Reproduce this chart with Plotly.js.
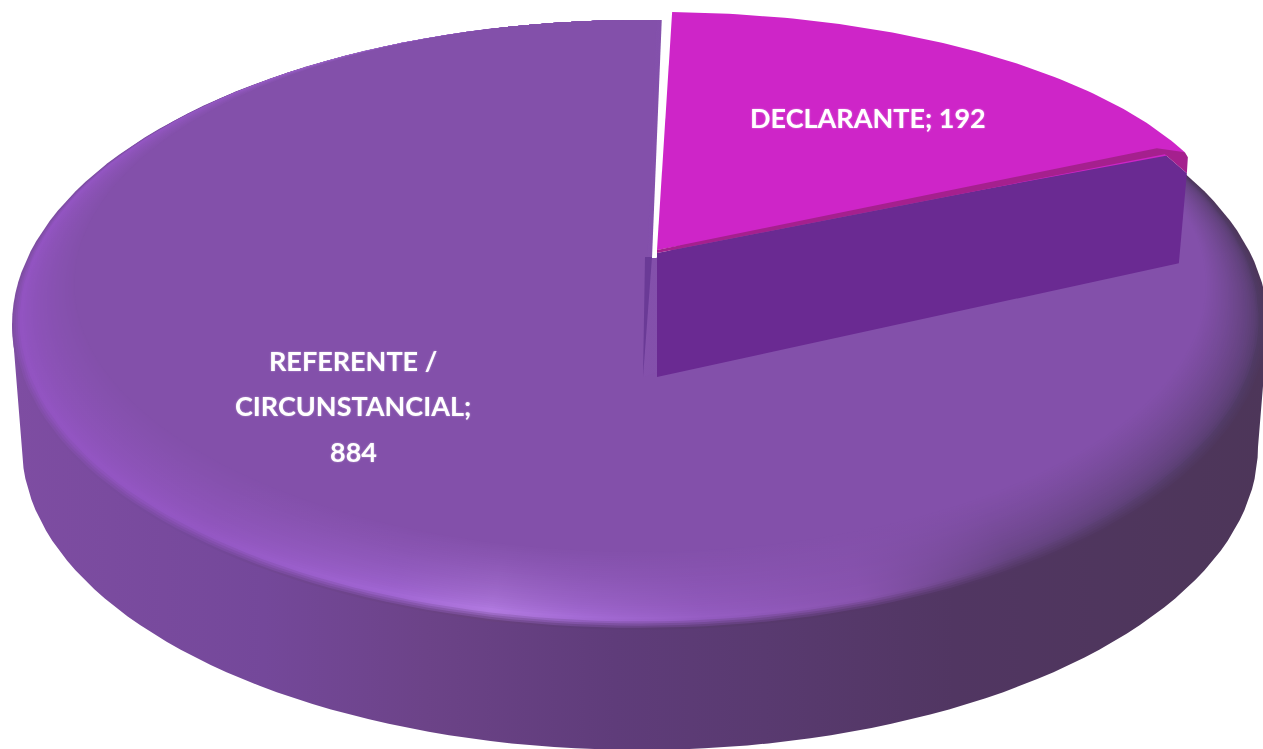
<!DOCTYPE html>
<html><head><meta charset="utf-8">
<script src="https://cdn.plot.ly/plotly-3.0.1.min.js"></script>
<style>html,body{margin:0;padding:0;background:#fff;overflow:hidden}#c{width:1263px;height:749px;filter:blur(0.6px)}</style>
</head><body><div id="c"></div>
<script>
// ---- data
const categories = ['DECLARANTE', 'REFERENTE / CIRCUNSTANCIAL'];
const values = [192, 884];
const sliceColors = ['#CE25C8', '#8350AA'];
const labelLines = [
  [`${categories[0]}; ${values[0]}`],
  ['REFERENTE /', 'CIRCUNSTANCIAL;', String(values[1])]
];

// ---- solid geometry (plot units = axis units)
const W = 1263, H = 749;
const topE = {cx: 640, cy: 325, rx: 628, ry: 305};
const botE = {cx: 640, cy: 447, rx: 618, ry: 303};
const sliceE = {cx: 657, cy: 250, rx: 579, ry: 238};
const startDeg = 1.5;
const total = values[0] + values[1];
const sweep = values.map(v => v / total * 360);
const rad = d => d * Math.PI / 180;

function hex(c){return c[0]==='#'?[1,3,5].map(i=>parseInt(c.slice(i,i+2),16)):c.match(/\d+/g).map(Number);}
function mix(a,b,t){const A=hex(a),B=hex(b);return 'rgb('+A.map((v,i)=>Math.round(v+(B[i]-v)*t)).join(',')+')';}

function poly(x,y,color,extra){
  return Object.assign({type:'scatter',mode:'lines',x,y,fill:'toself',fillcolor:color,
    line:{width:0},hoverinfo:'skip',showlegend:false},extra||{});
}
function inset(deg,t){
  const p=rad(deg), w=Math.pow((1-Math.cos(p))/2,1.3);
  return [topE.cx+(topE.rx-170*t*w)*Math.sin(p), topE.cy-(topE.ry-78*t*w)*Math.cos(p)];
}
const traces=[];

// side wall: lower arc of the base, closed by a chord hidden under the top face
const wallStops=[[0,'#7E4DA2'],[0.2,'#74489A'],[0.33,'#6C4388'],[0.48,'#5F3C7A'],[0.6,'#593A70'],[0.75,'#513662'],[1,'#4D3659']];
{
  const x=[topE.cx-topE.rx],y=[topE.cy];
  for(let d=270;d>=90;d-=2){const p=rad(d);x.push(botE.cx+botE.rx*Math.sin(p));y.push(botE.cy-botE.ry*Math.cos(p));}
  x.push(topE.cx+topE.rx,topE.cx-topE.rx);y.push(topE.cy,topE.cy);
  traces.push(poly(x,y,'#5F3C7A',{fillgradient:{type:'horizontal',colorscale:wallStops}}));
}

// shaded bevel of the top face: wall colour -> rim highlight -> face colour
const rimPos =[0,0.15,0.3,0.38,0.45,0.55,0.68,0.8,1];
const rimCols=['#9454C4','#9658C6','#A468D8','#B67EE6','#A86EDA','#985EC6','#8A54B0','#62427C','#4F3A64'];
const rimEdge=['#7E4DA2','#74489A','#6C4388','#68417F','#5F3C7A','#593A70','#553768','#513662','#4D3659'];
const face=sliceColors[1];
const N=36, edge=0.12;
for(let i=0;i<N;i++){
  const t=i/N, x=[],y=[];
  for(let d=0;d<=360;d+=2){const q=inset(d,t);x.push(q[0]);y.push(q[1]);}
  const cs=rimPos.map((p,j)=>[p, t<edge ? mix(rimEdge[j],rimCols[j],t/edge)
                                      : mix(rimCols[j],face,Math.pow((t-edge)/(1-edge),0.6))]);
  traces.push(poly(x,y,face,{fillgradient:{type:'horizontal',colorscale:cs}}));
}

// body slice, swept from the value
{
  const a=startDeg+sweep[0], b=a+sweep[1], x=[643],y=[377];
  for(let i=0;i<=200;i++){const q=inset(a+(b-a)*i/200,1);x.push(q[0]);y.push(q[1]);}
  x.push(643);y.push(377);
  traces.push(poly(x,y,face));
}

// dark sliver of the notch
traces.push(poly([645,652,643,645],[257,257,377,257],'#6A3A96'));
// white gap between the slices
traces.push(poly([662,690,690,656,652,662],[14,14,240,258,258,14],'#FFFFFF'));

// raised slice: wall, face, then the lip along its lower edge
{
  const e=rad(startDeg+sweep[0]);
  const ex=sliceE.cx+sliceE.rx*Math.sin(e), ey=sliceE.cy-sliceE.ry*Math.cos(e);
  traces.push(poly([sliceE.cx,ex-20,ex+2,ex-6,sliceE.cx,sliceE.cx],[sliceE.cy+3,ey+2,ey+21,ey+111,377,sliceE.cy+3],'#6A2A92'));
  const x=[sliceE.cx],y=[sliceE.cy];
  for(let i=0;i<=80;i++){const p=rad(startDeg+sweep[0]*i/80);x.push(sliceE.cx+sliceE.rx*Math.sin(p));y.push(sliceE.cy-sliceE.ry*Math.cos(p));}
  x.push(sliceE.cx);y.push(sliceE.cy);
  traces.push(poly(x,y,sliceColors[0]));
  traces.push(poly([sliceE.cx,ex-28,ex,ex+3,ex+2,ex-20,sliceE.cx,sliceE.cx],
                   [sliceE.cy,ey-4,ey,ey+5,ey+21,ey+2,sliceE.cy+3,sliceE.cy],'#A5208E'));
}

const textFont={family:'Lato, "Open Sans", sans-serif',size:27,color:'#FFFFFF',weight:700,shadow:'0 0 2px rgba(255,255,255,0.5)'};
const anchors=[[[868,117]],[[353,360],[353,405],[353,451]]];
const annotations=[];
labelLines.forEach((lines,s)=>lines.forEach((txt,i)=>annotations.push({
  text:txt,x:anchors[s][i][0],y:anchors[s][i][1],xref:'x',yref:'y',showarrow:false,
  xanchor:'center',yanchor:'middle',font:textFont})));

Plotly.newPlot('c',traces,{
  width:W,height:H,margin:{l:0,r:0,t:0,b:0},paper_bgcolor:'#fff',plot_bgcolor:'#fff',showlegend:false,
  xaxis:{range:[0,W],visible:false,fixedrange:true},
  yaxis:{range:[H,0],visible:false,fixedrange:true},
  annotations
},{displayModeBar:false,staticPlot:true});
</script></body></html>
